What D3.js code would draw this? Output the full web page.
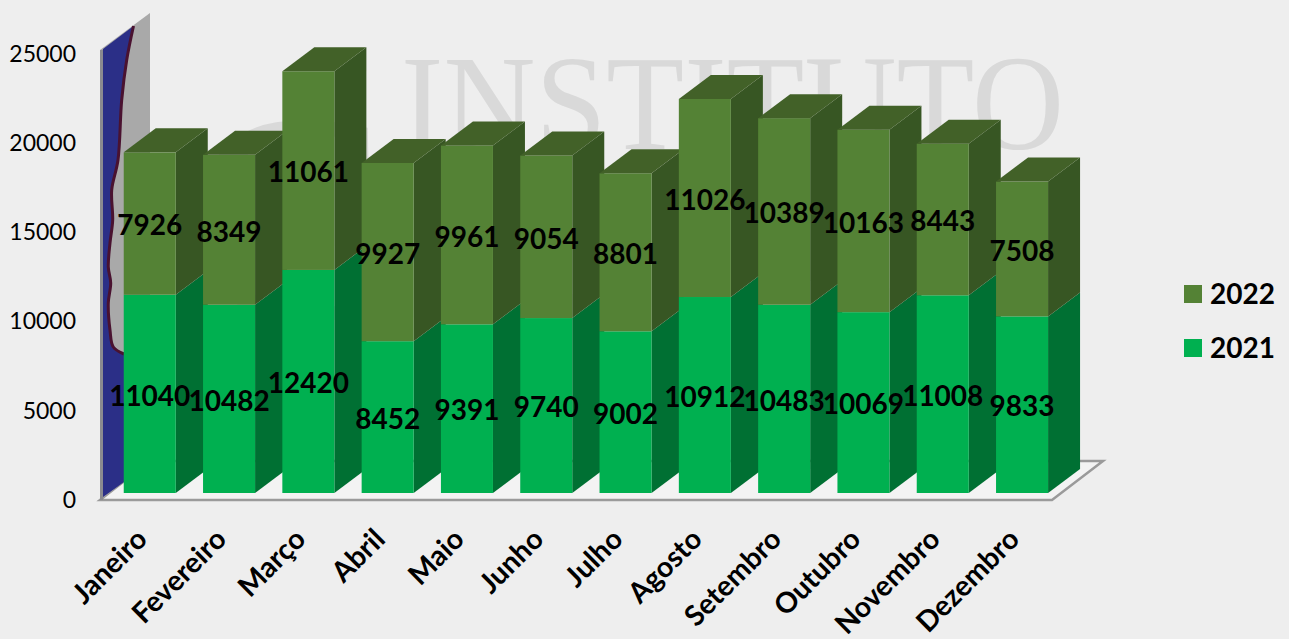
<!DOCTYPE html>
<html>
<head>
<meta charset="utf-8">
<script src="https://cdnjs.cloudflare.com/ajax/libs/d3/7.8.5/d3.min.js"></script>
<style>
  html, body { margin: 0; padding: 0; background: #eeeeee; }
  svg { display: block; font-family: Lato, "Open Sans", sans-serif; }
</style>
</head>
<body>
<div class="vis-bars"></div>
<script>
const months = ["Janeiro", "Fevereiro", "Março", "Abril", "Maio", "Junho", "Julho", "Agosto", "Setembro", "Outubro", "Novembro", "Dezembro"];
const values2021 = [11040, 10482, 12420, 8452, 9391, 9740, 9002, 10912, 10483, 10069, 11008, 9833];
const values2022 = [7926, 8349, 11061, 9927, 9961, 9054, 8801, 11026, 10389, 10163, 8443, 7508];
const yearKeys = ["2021", "2022"];
const axisTicks = [0, 5000, 10000, 15000, 20000, 25000];

const width = 1289;
const height = 639;
const depth = { x: 32, y: -24 };
const wallDepth = { x: 50, y: -38 };

const colors = {
  2021: { front: "#00b050", side: "#007033", top: "#00813a" },
  2022: { front: "#548235", side: "#375623", top: "#426128" },
};

const rows = months.map((m, i) => ({ month: m, 2021: values2021[i], 2022: values2022[i] }));
const series = d3.stack().keys(yearKeys)(rows);

const svg = d3.select(".vis-bars").append("svg").attr("width", width).attr("height", height);

const xScale = d3.scaleBand().domain(months).range([110.1, 1061.7]).paddingInner(0.344).paddingOuter(0.172);
const yScale = d3.scaleLinear().domain([0, 25000]).range([493, 44]);
const yAxisScale = d3.scaleLinear().domain([0, 25000]).range([500, 54]);

// watermark behind the plot
const mark = svg.append("g").attr("fill", "#d9d9d9").attr("font-family", "Liberation Serif");
mark.append("text").attr("x", 188).attr("y", 319).attr("font-size", 300).text("C");
mark.append("text")
  .attr("x", 401)
  .attr("y", 149)
  .attr("font-size", 136)
  .attr("textLength", 663)
  .attr("lengthAdjust", "spacingAndGlyphs")
  .text("INSTITUTO");

// floor
const floorY = yAxisScale(0);
const floorL = 100;
const floorR = 1052;
svg.append("path")
  .attr("d", `M${floorL},${floorY}L${floorR},${floorY}L${floorR + 51},${floorY - 39}L${floorL + 50},${floorY - 39}Z`)
  .attr("fill", "#f3f3f3")
  .attr("stroke", "#9a9a9a")
  .attr("stroke-width", 2.5);

// left wall with the map picture on it
const wallTop = yAxisScale(25000) - 4;
svg.append("path")
  .attr("d", `M${floorL},${floorY}L${floorL},${wallTop}L${floorL + wallDepth.x},${wallTop + wallDepth.y + 1}L${floorL + wallDepth.x},${floorY + wallDepth.y}Z`)
  .attr("fill", "#a9a9a9");
svg.append("rect")
  .attr("x", floorL)
  .attr("y", wallTop)
  .attr("width", 3)
  .attr("height", floorY - wallTop)
  .attr("fill", "#8b8b90");

const coast = [[133.5, 26], [126.7, 60], [121.7, 100], [118, 160], [111.7, 190], [112.7, 220], [110, 243], [108.3, 267], [110.7, 283], [108.3, 303], [110, 330], [113.3, 347], [124, 354]];
const coastLine = d3.line().curve(d3.curveCatmullRom);
svg.append("path")
  .attr("d", `M103,${wallTop - 1}L133.5,26${coastLine(coast).replace(/^M[^CL]*/, "")}L124,482L103,497Z`)
  .attr("fill", "#2b2f87");
svg.append("path")
  .attr("d", coastLine(coast))
  .attr("fill", "none")
  .attr("stroke", "#4a1230")
  .attr("stroke-width", 3);

// value axis
const yAxis = svg.append("g")
  .attr("transform", "translate(84,0)")
  .call(d3.axisLeft(yAxisScale).tickValues(axisTicks).tickSize(0).tickPadding(8).tickFormat(d3.format("d")));
yAxis.select(".domain").remove();
yAxis.selectAll("text").attr("font-family", "Lato").attr("font-size", 23).attr("fill", "#000");

// bars go left to right so each front covers the side of the previous one
const barW = xScale.bandwidth();
months.forEach((m, i) => {
  const x0 = xScale(m);
  const g = svg.append("g").attr("class", "bar");
  series.forEach((s) => {
    const c = colors[s.key];
    const yBase = yScale(s[i][0]);
    const yTop = yScale(s[i][1]);
    g.append("path")
      .attr("d", `M${x0 + barW},${yBase}L${x0 + barW + depth.x},${yBase + depth.y}L${x0 + barW + depth.x},${yTop + depth.y}L${x0 + barW},${yTop}Z`)
      .attr("fill", c.side);
    g.append("rect")
      .attr("x", x0)
      .attr("y", yTop)
      .attr("width", barW)
      .attr("height", yBase - yTop)
      .attr("fill", c.front);
    if (s.key === "2022") {
      g.append("path")
        .attr("d", `M${x0},${yTop}L${x0 + depth.x},${yTop + depth.y}L${x0 + barW + depth.x},${yTop + depth.y}L${x0 + barW},${yTop}Z`)
        .attr("fill", c.top);
    }
  });
});

// data labels
series.forEach((s) => {
  svg.append("g")
    .selectAll("text")
    .data(s)
    .enter()
    .append("text")
    .attr("x", (d) => xScale(d.data.month) + barW / 2)
    .attr("y", (d) => (yScale(d[0]) + yScale(d[1])) / 2 + 2)
    .attr("dy", "0.35em")
    .attr("text-anchor", "middle")
    .attr("font-size", 28)
    .attr("font-weight", 700)
    .attr("fill", "#000")
    .text((d) => d[1] - d[0]);
});

// month labels
svg.append("g")
  .selectAll("text")
  .data(months)
  .enter()
  .append("text")
  .attr("transform", (d) => `translate(${xScale(d) + barW / 2 - 1},${541}) rotate(-45)`)
  .attr("text-anchor", "end")
  .attr("font-size", 28.5)
  .attr("font-weight", 700)
  .attr("fill", "#000")
  .text((d) => d);

// legend
const legendY = d3.scalePoint().domain(["2022", "2021"]).range([294, 348]);
const legend = svg.append("g")
  .selectAll("g")
  .data(legendY.domain())
  .enter()
  .append("g")
  .attr("transform", (d) => `translate(1184,${legendY(d)})`);
legend.append("rect")
  .attr("y", -9)
  .attr("width", 18)
  .attr("height", 18)
  .attr("fill", (d) => colors[d].front);
legend.append("text")
  .attr("x", 26)
  .attr("dy", "0.35em")
  .attr("font-size", 28)
  .attr("font-weight", 700)
  .attr("fill", "#000")
  .text((d) => d);
</script>
</body>
</html>
